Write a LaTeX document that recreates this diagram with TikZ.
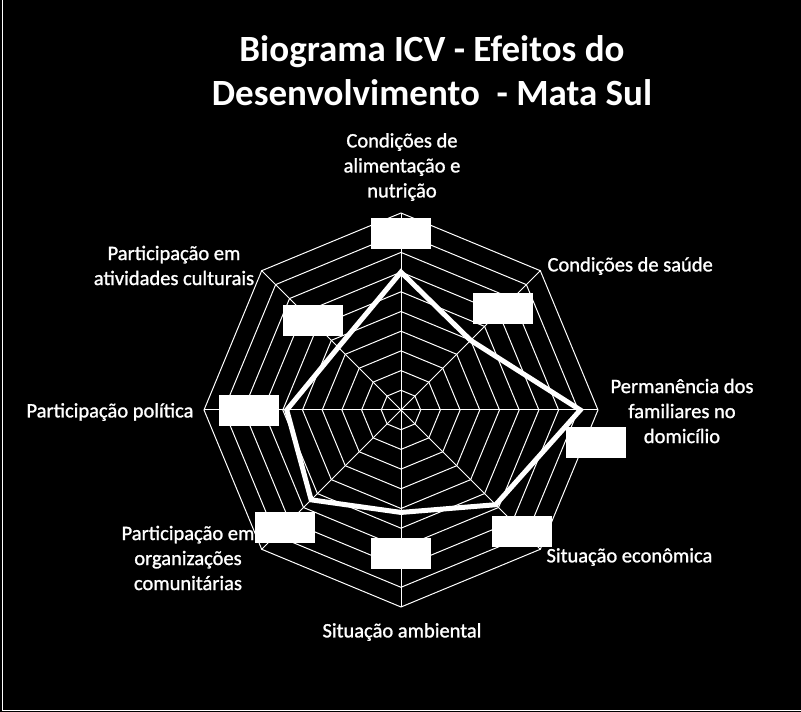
\documentclass[tikz,border=0pt]{standalone}
\usepackage{fontspec}
\setmainfont{Carlito}
\newfontfamily\fonterotulo[FakeBold=1.2]{Carlito}
\begin{document}
\begin{tikzpicture}[x=1pt,y=1pt,
  every node/.style={text=white,align=center,font=\fonterotulo\fontsize{20.5}{25}\selectfont},
  grade/.style={draw=white,line width=1pt},
  serie/.style={draw=white,line width=5pt,line join=miter},
  rotulo/.style={fill=white,minimum width=60pt,minimum height=31pt,inner sep=0pt}
  ]

    \fill[black] (0,0) rectangle (801,712);
    \useasboundingbox (0,0) rectangle (801,712);
    \draw[white,line width=1.2pt] (2.5,712) -- (2.5,1.5) -- (801,1.5);

    \node[font=\bfseries\fontsize{37}{44}\selectfont] (titulo) at (432,641)
        {Biograma ICV - Efeitos do\\Desenvolvimento~~- Mata Sul};

    \coordinate (centro) at (401,302);
    \begin{scope}[shift={(centro)}]
        % aneis e eixos
        \foreach \r in {1,...,10}
            \draw[grade] (90:\r*19.7) \foreach \a in {135,180,...,405} { -- (\a:\r*19.7) } -- cycle;
        \foreach \a in {90,45,...,-225}
            \draw[grade] (0,0) -- (\a:197);
        % serie
        \draw[serie] (90:0.70*197) -- (45:0.50*197) -- (0:0.91*197) -- (-45:0.68*197)
            -- (-90:0.52*197) -- (-135:0.645*197) -- (180:0.58*197) -- (135:0.45*197) -- cycle;
    \end{scope}

    \node[rotulo] (valAlim) at (401,478) {};
    \node[rotulo] (valSaude) at (503,403) {};
    \node[rotulo] (valPerm) at (596,269) {};
    \node[rotulo] (valEcon) at (522,180) {};
    \node[rotulo] (valAmb) at (401,158) {};
    \node[rotulo] (valOrg) at (285,184) {};
    \node[rotulo] (valPol) at (249,301) {};
    \node[rotulo] (valCult) at (313,391) {};

    \node (alim) at (402,545) {Condições de\\alimentação e\\nutrição};
    \node[anchor=west] (saude) at (544,446) {Condições de saúde};
    \node (perm) at (682,301) {Permanência dos\\familiares no\\domicílio};
    \node[anchor=west] (econ) at (543,155) {Situação econômica};
    \node (amb) at (402,80) {Situação ambiental};
    \node (org) at (188,154) {Participação em\\organizações\\comunitárias};
    \node (pol) at (110,300) {Participação política};
    \node (cult) at (174,446.5) {Participação em\\atividades culturais};
\end{tikzpicture}
\end{document}
